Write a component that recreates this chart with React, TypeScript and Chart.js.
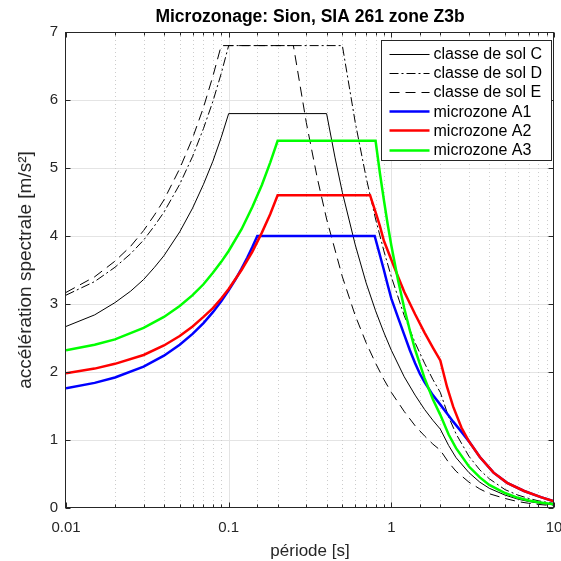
import { useEffect, useRef } from 'react';
import { Chart, registerables } from 'chart.js';

Chart.register(...registerables);

const FONT = "'Liberation Sans', Arial, Helvetica, sans-serif";
const AXIS_COLOR = '#262626';

const chartTitle = 'Microzonage: Sion, SIA 261 zone Z3b';
const xAxisTitle = 'période [s]';
const yAxisTitle = 'accélération spectrale [m/s²]';

const xTickValues = [0.01, 0.1, 1, 10];
const xTickLabels = ['0.01', '0.1', '1', '10'];
const yTickValues = [0, 1, 2, 3, 4, 5, 6, 7];

const seriesNames = ['classe de sol C', 'classe de sol D', 'classe de sol E', 'microzone A1', 'microzone A2', 'microzone A3'];

const periodC = [0.01, 0.015, 0.02, 0.025, 0.03, 0.035, 0.04, 0.05, 0.06, 0.07, 0.08, 0.09, 0.1, 0.4, 0.45, 0.5, 0.6, 0.7, 0.8, 0.9, 1, 1.2, 1.4, 1.6, 1.8, 2, 2.25, 2.5, 3, 3.5, 4, 5, 6, 7, 8, 9, 10];
const accelC = [2.67, 2.84, 3.02, 3.19, 3.36, 3.54, 3.71, 4.06, 4.41, 4.76, 5.10, 5.45, 5.80, 5.80, 5.16, 4.64, 3.87, 3.31, 2.90, 2.58, 2.32, 1.93, 1.66, 1.45, 1.29, 1.16, 0.92, 0.74, 0.52, 0.38, 0.29, 0.19, 0.13, 0.095, 0.073, 0.057, 0.046];

const periodD = [0.01, 0.015, 0.02, 0.025, 0.03, 0.035, 0.04, 0.05, 0.06, 0.07, 0.08, 0.09, 0.1, 0.5, 0.6, 0.7, 0.8, 0.9, 1, 1.2, 1.4, 1.6, 1.8, 2, 2.25, 2.5, 3, 3.5, 4, 5, 6, 7, 8, 9, 10];
const accelD = [3.13, 3.33, 3.54, 3.74, 3.94, 4.15, 4.35, 4.76, 5.17, 5.58, 5.98, 6.39, 6.80, 6.80, 5.67, 4.86, 4.25, 3.78, 3.40, 2.83, 2.43, 2.13, 1.89, 1.70, 1.34, 1.09, 0.76, 0.56, 0.43, 0.27, 0.19, 0.14, 0.106, 0.084, 0.068];

const periodE = [0.01, 0.015, 0.02, 0.025, 0.03, 0.035, 0.04, 0.05, 0.06, 0.07, 0.08, 0.09, 0.25, 0.3, 0.35, 0.4, 0.5, 0.6, 0.7, 0.8, 0.9, 1, 1.2, 1.4, 1.6, 1.8, 2, 2.25, 2.5, 3, 3.5, 4, 5, 6, 7, 8, 9, 10];
const accelE = [3.17, 3.40, 3.63, 3.85, 4.08, 4.31, 4.53, 4.99, 5.44, 5.89, 6.35, 6.80, 6.80, 5.67, 4.86, 4.25, 3.40, 2.83, 2.43, 2.13, 1.89, 1.70, 1.42, 1.21, 1.06, 0.94, 0.85, 0.67, 0.54, 0.38, 0.28, 0.21, 0.14, 0.094, 0.069, 0.053, 0.042, 0.034];

const periodA1 = [0.01, 0.015, 0.02, 0.03, 0.04, 0.05, 0.06, 0.07, 0.08, 0.09, 0.1, 0.11, 0.12, 0.13, 0.14, 0.15, 0.79, 0.85, 0.9, 0.95, 1, 1.1, 1.2, 1.3, 1.4, 1.5, 1.6, 1.8, 2, 2.2, 2.4, 2.7, 3, 3.5, 4.25, 5.15, 6.55, 8.3, 10];
const accelA1 = [1.76, 1.84, 1.92, 2.08, 2.24, 2.40, 2.56, 2.72, 2.88, 3.04, 3.20, 3.36, 3.52, 3.68, 3.84, 4.00, 4.00, 3.72, 3.50, 3.28, 3.08, 2.80, 2.55, 2.32, 2.13, 1.97, 1.85, 1.66, 1.52, 1.39, 1.27, 1.12, 0.98, 0.75, 0.52, 0.37, 0.25, 0.16, 0.10];

const periodA2 = [0.01, 0.015, 0.02, 0.03, 0.04, 0.05, 0.06, 0.07, 0.08, 0.09, 0.1, 0.12, 0.14, 0.16, 0.18, 0.2, 0.74, 0.8, 0.85, 0.9, 1, 1.1, 1.2, 1.4, 1.6, 1.8, 2, 2.2, 2.4, 2.7, 3, 3.5, 4.25, 5.15, 6.55, 8.3, 10];
const accelA2 = [1.98, 2.05, 2.12, 2.25, 2.39, 2.53, 2.67, 2.81, 2.94, 3.08, 3.22, 3.50, 3.77, 4.05, 4.32, 4.60, 4.60, 4.35, 4.15, 3.93, 3.65, 3.40, 3.18, 2.85, 2.58, 2.36, 2.17, 1.78, 1.49, 1.18, 0.98, 0.75, 0.52, 0.37, 0.25, 0.16, 0.10];

const periodA3 = [0.01, 0.015, 0.02, 0.03, 0.04, 0.05, 0.06, 0.07, 0.08, 0.09, 0.1, 0.12, 0.14, 0.16, 0.18, 0.2, 0.8, 0.85, 0.9, 0.95, 1, 1.1, 1.2, 1.3, 1.4, 1.6, 1.8, 2, 2.25, 2.5, 3, 3.5, 4, 5, 6, 7, 8, 10];
const accelA3 = [2.32, 2.40, 2.48, 2.65, 2.81, 2.97, 3.13, 3.29, 3.46, 3.62, 3.78, 4.10, 4.43, 4.75, 5.08, 5.40, 5.40, 4.93, 4.53, 4.17, 3.86, 3.35, 2.94, 2.61, 2.33, 1.91, 1.60, 1.37, 1.08, 0.88, 0.61, 0.45, 0.34, 0.22, 0.15, 0.11, 0.086, 0.055];

const toPoints = (xs: number[], ys: number[]) => xs.map((x, i) => ({ x, y: ys[i] }));
const isMajorX = (v: number) => xTickValues.some((t) => Math.abs(t - v) / t < 1e-6);

const framePlugin = {
  id: 'frame',
  beforeDatasetsDraw(chart: any) {
    const { ctx, chartArea: a, scales } = chart;
    const x = scales.x;
    const y = scales.y;
    ctx.save();
    ctx.lineWidth = 1;
    ctx.strokeStyle = '#e4e4e4';
    ctx.setLineDash([]);
    for (const t of y.ticks) {
      const py = Math.round(y.getPixelForValue(t.value)) + 0.5;
      if (py <= a.top + 1 || py >= a.bottom - 1) continue;
      ctx.beginPath();
      ctx.moveTo(a.left, py);
      ctx.lineTo(a.right, py);
      ctx.stroke();
    }
    for (const t of x.ticks) {
      const px = Math.round(x.getPixelForValue(t.value)) + 0.5;
      if (px <= a.left + 1 || px >= a.right - 1) continue;
      ctx.beginPath();
      if (isMajorX(t.value)) {
        ctx.strokeStyle = '#e4e4e4';
        ctx.setLineDash([]);
      } else {
        ctx.strokeStyle = '#cccccc';
        ctx.setLineDash([1, 3]);
      }
      ctx.moveTo(px, a.top);
      ctx.lineTo(px, a.bottom);
      ctx.stroke();
    }
    ctx.restore();
  },
  afterDatasetsDraw(chart: any) {
    const { ctx, chartArea: a, scales, data } = chart;
    const x = scales.x;
    const y = scales.y;
    ctx.save();
    ctx.setLineDash([]);
    ctx.strokeStyle = AXIS_COLOR;
    ctx.lineWidth = 1;
    const L = Math.round(a.left) - 0.5;
    const R = Math.round(a.right) - 0.5;
    const T = Math.round(a.top) + 0.5;
    const B = Math.round(a.bottom) - 0.5;
    ctx.strokeRect(L, T, R - L, B - T);
    for (const t of x.ticks) {
      const px = Math.round(x.getPixelForValue(t.value)) + 0.5;
      const len = isMajorX(t.value) ? 5 : 3;
      ctx.beginPath();
      ctx.moveTo(px, B);
      ctx.lineTo(px, B - len);
      ctx.moveTo(px, T);
      ctx.lineTo(px, T + len);
      ctx.stroke();
    }
    for (const t of y.ticks) {
      const py = Math.round(y.getPixelForValue(t.value)) + 0.5;
      ctx.beginPath();
      ctx.moveTo(L, py);
      ctx.lineTo(L + 5, py);
      ctx.moveTo(R, py);
      ctx.lineTo(R - 5, py);
      ctx.stroke();
    }
    // legend
    const boxR = R - 2;
    const boxL = boxR - 170;
    const boxT = T + 8;
    const boxB = boxT + 120;
    ctx.fillStyle = '#ffffff';
    ctx.fillRect(boxL, boxT, boxR - boxL, boxB - boxT);
    ctx.strokeStyle = AXIS_COLOR;
    ctx.strokeRect(boxL, boxT, boxR - boxL, boxB - boxT);
    ctx.font = `16px ${FONT}`;
    ctx.textBaseline = 'middle';
    ctx.textAlign = 'left';
    data.datasets.forEach((ds: any, i: number) => {
      const cy = boxT + 13 + i * 19.2;
      ctx.beginPath();
      ctx.strokeStyle = ds.borderColor;
      ctx.lineWidth = ds.borderWidth;
      ctx.setLineDash(ds.borderDash || []);
      ctx.moveTo(boxL + 8, Math.round(cy) + 0.5);
      ctx.lineTo(boxL + 48, Math.round(cy) + 0.5);
      ctx.stroke();
      ctx.setLineDash([]);
      ctx.fillStyle = '#000000';
      ctx.fillText(ds.label, boxL + 52, cy + 1);
    });
    ctx.restore();
  },
};

export default function App() {
  const ref = useRef<HTMLCanvasElement | null>(null);
  useEffect(() => {
    if (!ref.current) return;
    const chart = new Chart(ref.current, {
      type: 'line',
      data: {
        datasets: [
          { label: seriesNames[0], data: toPoints(periodC, accelC), borderColor: '#000000', borderWidth: 1, order: 5 },
          { label: seriesNames[1], data: toPoints(periodD, accelD), borderColor: '#000000', borderWidth: 1, borderDash: [9, 3, 2, 3], order: 4 },
          { label: seriesNames[2], data: toPoints(periodE, accelE), borderColor: '#000000', borderWidth: 1, borderDash: [10, 6], order: 3 },
          { label: seriesNames[3], data: toPoints(periodA1, accelA1), borderColor: '#0000ff', borderWidth: 2.5, order: 2 },
          { label: seriesNames[4], data: toPoints(periodA2, accelA2), borderColor: '#ff0000', borderWidth: 2.5, order: 1 },
          { label: seriesNames[5], data: toPoints(periodA3, accelA3), borderColor: '#00ff00', borderWidth: 2.5, order: 0 },
        ] as any,
      },
      options: {
        animation: false,
        responsive: false,
        devicePixelRatio: 1,
        events: [],
        layout: { padding: { left: 0, right: 7, top: 0, bottom: 0 }, autoPadding: false },
        elements: { point: { radius: 0 }, line: { tension: 0, fill: false } },
        plugins: {
          legend: { display: false },
          tooltip: { enabled: false },
          title: {
            display: true,
            fullSize: false,
            text: chartTitle,
            color: '#000000',
            font: { family: FONT, size: 17.5, weight: 'bold' },
            padding: { top: 7, bottom: 4 },
          },
        },
        scales: {
          x: {
            type: 'logarithmic',
            min: xTickValues[0],
            max: xTickValues[xTickValues.length - 1],
            grid: { display: false, drawTicks: false },
            border: { display: false },
            afterFit: (s: any) => { s.height = 53; s.paddingLeft = 0; s.paddingRight = 0; },
            ticks: {
              autoSkip: false,
              maxRotation: 0,
              minRotation: 0,
              padding: 11,
              color: AXIS_COLOR,
              font: { family: FONT, size: 15 },
              callback: (val: any) => {
                const v = Number(val);
                const idx = xTickValues.findIndex((t) => Math.abs(t - v) / t < 1e-6);
                return idx >= 0 ? xTickLabels[idx] : '';
              },
            },
            title: { display: true, text: xAxisTitle, color: AXIS_COLOR, font: { family: FONT, size: 17 }, padding: { top: 0, bottom: -1 } },
          },
          y: {
            type: 'linear',
            min: yTickValues[0],
            max: yTickValues[yTickValues.length - 1],
            grid: { display: false, drawTicks: false },
            border: { display: false },
            afterFit: (s: any) => { s.width = 66; s.paddingTop = 0; s.paddingBottom = 0; },
            ticks: { stepSize: 1, padding: 8, color: AXIS_COLOR, font: { family: FONT, size: 15 } },
            title: { display: true, text: yAxisTitle, color: AXIS_COLOR, font: { family: FONT, size: 19 }, padding: { top: 14, bottom: 0 } },
          },
        },
      } as any,
      plugins: [framePlugin],
    });
    return () => chart.destroy();
  }, []);
  return (
    <div style={{ position: 'fixed', left: 0, top: 0, width: 561, height: 561, background: '#fff' }}>
      <canvas ref={ref} width={561} height={561} style={{ width: 561, height: 561, display: 'block' }} />
    </div>
  );
}
